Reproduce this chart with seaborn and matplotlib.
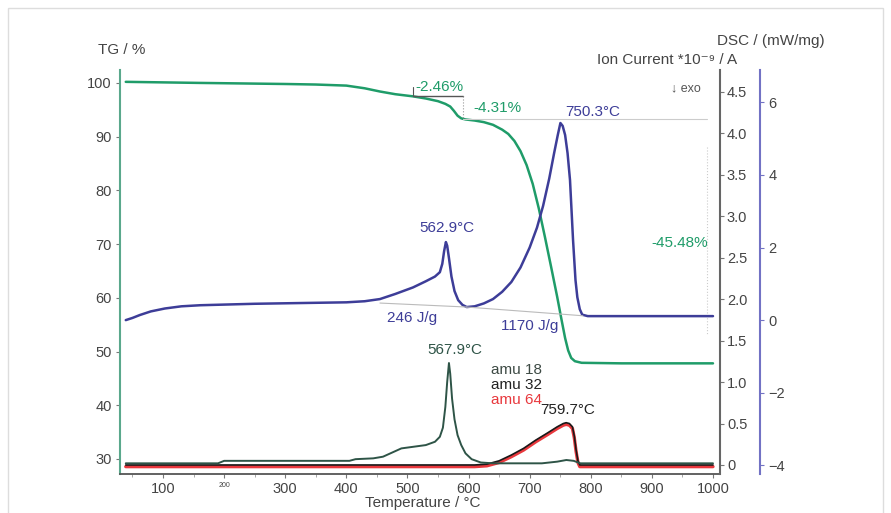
import numpy as np
import matplotlib
matplotlib.use("Agg")
import matplotlib.pyplot as plt
import matplotlib.patches as patches
import seaborn as sns

# TG curve (mass %)
tg_temp = [39, 100, 160, 230, 300, 350, 400, 430, 455, 480, 509, 530, 550, 562, 570, 576, 582, 588, 595, 610, 625, 640, 655, 665, 675, 685, 695, 705, 715, 725, 735, 745, 752, 758, 763, 768, 774, 785, 850, 1000]
tg_mass = [100.2, 100.1, 100.0, 99.9, 99.8, 99.7, 99.5, 99.0, 98.4, 97.9, 97.5, 97.1, 96.6, 96.1, 95.6, 94.8, 93.9, 93.4, 93.2, 93.0, 92.7, 92.2, 91.3, 90.5, 89.2, 87.3, 84.7, 81.2, 76.6, 71.3, 65.8, 60.2, 56.0, 52.5, 50.2, 48.8, 48.2, 47.9, 47.8, 47.8]

# DSC curve (mW/mg)
dsc_temp = [39, 50, 62, 80, 103, 130, 161, 250, 324, 400, 430, 455, 480, 509, 530, 545, 553, 557, 560, 562.9, 565, 568, 572, 577, 583, 590, 597, 610, 625, 640, 655, 670, 685, 700, 712, 722, 732, 740, 746, 750.3, 754, 758, 762, 766, 771, 775, 778, 782, 786, 795, 864, 1000]
dsc_val = [0.0, 0.06, 0.14, 0.24, 0.32, 0.38, 0.41, 0.45, 0.47, 0.49, 0.52, 0.58, 0.72, 0.9, 1.07, 1.2, 1.32, 1.55, 1.9, 2.15, 2.05, 1.7, 1.2, 0.8, 0.55, 0.42, 0.36, 0.38, 0.46, 0.58, 0.78, 1.05, 1.45, 2.0, 2.55, 3.15, 3.9, 4.6, 5.1, 5.43, 5.35, 5.1, 4.6, 3.86, 2.2, 1.1, 0.63, 0.3, 0.15, 0.11, 0.11, 0.11]

# ion currents
amu18_temp = [39, 190, 200, 405, 415, 444, 460, 475, 490, 510, 530, 545, 553, 558, 562, 565, 567.9, 570, 573, 577, 582, 588, 595, 605, 620, 640, 720, 745, 760, 772, 783, 1000]
amu18_val = [0.02, 0.02, 0.05, 0.05, 0.07, 0.08, 0.1, 0.15, 0.2, 0.22, 0.24, 0.28, 0.34, 0.45, 0.7, 1.0, 1.23, 1.1, 0.8, 0.55, 0.36, 0.24, 0.14, 0.07, 0.03, 0.02, 0.02, 0.04, 0.06, 0.05, 0.02, 0.02]
amu32_temp = [39, 610, 630, 650, 670, 690, 710, 730, 745, 755, 759.7, 765, 770, 773, 776, 779, 782, 1000]
amu32_val = [0.0, 0.0, 0.01, 0.05, 0.12, 0.2, 0.3, 0.39, 0.46, 0.5, 0.51, 0.5, 0.46, 0.35, 0.18, 0.05, 0.0, 0.0]
amu64_temp = [39, 610, 630, 650, 670, 690, 710, 730, 745, 755, 759.7, 765, 770, 773, 776, 779, 782, 1000]
amu64_val = [-0.02, -0.02, -0.01, 0.03, 0.1, 0.18, 0.28, 0.37, 0.44, 0.48, 0.49, 0.48, 0.44, 0.33, 0.16, 0.03, -0.02, -0.02]

x_ticks = [100, 200, 300, 400, 500, 600, 700, 800, 900, 1000]
tg_ticks = [30, 40, 50, 60, 70, 80, 90, 100]
ion_ticks = [0, 0.5, 1.0, 1.5, 2.0, 2.5, 3.0, 3.5, 4.0, 4.5]
ion_labels = ["0", "0.5", "1.0", "1.5", "2.0", "2.5", "3.0", "3.5", "4.0", "4.5"]
dsc_ticks = [-4, -2, 0, 2, 4, 6]

green = "#1f9c69"
blue = "#3d3d98"
red = "#e8383d"
txt = "#444444"

sns.set_style("white")
plt.rcParams["font.family"] = ["Liberation Sans", "DejaVu Sans"]

fig = plt.figure(figsize=(8.91, 5.13), dpi=100)
ax = fig.add_axes([0.1347, 0.076, 0.6734, 0.7875])
ax_ion = ax.twinx()
ax_dsc = ax.twinx()

# curves
sns.lineplot(x=tg_temp, y=tg_mass, ax=ax, color=green, linewidth=1.8, sort=False)
sns.lineplot(x=dsc_temp, y=dsc_val, ax=ax_dsc, color=blue, linewidth=1.8, sort=False)
sns.lineplot(x=amu64_temp, y=amu64_val, ax=ax_ion, color=red, linewidth=2.4, sort=False)
sns.lineplot(x=amu32_temp, y=amu32_val, ax=ax_ion, color="#1a1a1a", linewidth=1.2, sort=False)
sns.lineplot(x=amu18_temp, y=amu18_val, ax=ax_ion, color="#2e5447", linewidth=1.4, sort=False)

ax.set_xlim(29.6, 1011.5)
ax.set_ylim(27.2, 102.4)
ax_ion.set_ylim(-0.109, 4.765)
ax_dsc.set_ylim(-4.24, 6.89)

# TG step annotations
ax.plot([509, 591], [97.5, 97.5], color="#555555", lw=1.0)
ax.plot([509, 509], [97.5, 99.2], color="#555555", lw=0.8)
ax.plot([591, 591], [97.5, 93.2], color="#999999", lw=0.8, ls=":")
ax.plot([591, 990], [93.2, 93.2], color="#cccccc", lw=0.8)
ax.plot([990, 990], [88.1, 53.0], color="#cccccc", lw=0.8, ls=":")
ax.text(513, 99.3, "-2.46%", color=green, fontsize=11, ha="left", va="center")
ax.text(647, 95.3, "-4.31%", color=green, fontsize=11, ha="center", va="center")
ax.text(946, 70.2, "-45.48%", color=green, fontsize=11, ha="center", va="center")

# DSC annotations
ax_dsc.plot([455, 597], [0.47, 0.36], color="#bbbbbb", lw=0.8)
ax_dsc.plot([597, 787], [0.36, 0.12], color="#bbbbbb", lw=0.8)
ax_dsc.text(804, 5.73, "750.3°C", color=blue, fontsize=11, ha="center", va="center")
ax_dsc.text(565, 2.53, "562.9°C", color=blue, fontsize=11, ha="center", va="center")
ax_dsc.text(507, 0.05, "246 J/g", color=blue, fontsize=11, ha="center", va="center")
ax_dsc.text(700, -0.17, "1170 J/g", color=blue, fontsize=11, ha="center", va="center")

# ion current annotations
ax_ion.text(578, 1.39, "567.9°C", color="#2e5447", fontsize=11, ha="center", va="center")
ax_ion.text(763, 0.66, "759.7°C", color="#222222", fontsize=11, ha="center", va="center")
ax_ion.text(636, 1.14, "amu 18", color="#3d4a44", fontsize=11, ha="left", va="center")
ax_ion.text(636, 0.96, "amu 32", color="#222222", fontsize=11, ha="left", va="center")
ax_ion.text(636, 0.78, "amu 64", color=red, fontsize=11, ha="left", va="center")
ax_ion.text(955, 4.55, "↓ exo", color="#555555", fontsize=9, ha="center", va="center")

# spines
for a in (ax, ax_ion, ax_dsc):
    a.spines["top"].set_visible(False)
ax.spines["right"].set_visible(False)
ax.spines["left"].set_color("#5aa88c")
ax.spines["left"].set_linewidth(1.5)
ax.spines["bottom"].set_color("#555555")
ax.spines["bottom"].set_linewidth(1.3)
for s in ("left", "bottom"):
    ax_ion.spines[s].set_visible(False)
    ax_dsc.spines[s].set_visible(False)
ax_ion.spines["right"].set_color("#666666")
ax_ion.spines["right"].set_linewidth(1.5)
ax_dsc.spines["right"].set_position(("axes", 1.0667))
ax_dsc.spines["right"].set_color("#7272c4")
ax_dsc.spines["right"].set_linewidth(1.5)

# ticks
ax.set_xticks(x_ticks)
ax.set_xticks(np.arange(50, 1001, 50), minor=True)
ax.set_yticks(tg_ticks)
ax.tick_params(axis="both", which="major", direction="out", length=3, width=0.8,
               colors="#777777", labelcolor=txt, labelsize=10.5, pad=3)
ax.tick_params(axis="x", which="minor", direction="out", length=2, width=0.6, colors="#999999")
ax.tick_params(axis="x", which="both", bottom=True)
ax.tick_params(axis="y", left=True)
for lab in ax.get_xticklabels():
    if lab.get_text() == "200":
        lab.set_fontsize(5)
ax_ion.set_yticks(ion_ticks, labels=ion_labels)
ax_ion.tick_params(axis="y", right=True, direction="out", length=3, width=0.8,
                   colors="#777777", labelcolor=txt, labelsize=10.5, pad=2)
ax_dsc.set_yticks(dsc_ticks)
ax_dsc.tick_params(axis="y", right=True, direction="out", length=3, width=0.8,
                   colors="#7272c4", labelcolor=txt, labelsize=10.5, pad=3)
for a in (ax, ax_ion, ax_dsc):
    a.set_xlabel("")
    a.set_ylabel("")

# axis titles
fig.text(0.137, 0.903, "TG / %", fontsize=11, color=txt, ha="center", va="center")
fig.text(0.926, 0.920, "DSC / (mW/mg)", fontsize=11, color=txt, ha="right", va="center")
fig.text(0.827, 0.883, "Ion Current *10⁻⁹ / A", fontsize=11, color=txt, ha="right", va="center")
fig.text(0.474, 0.02, "Temperature / °C", fontsize=11, color=txt, ha="center", va="center")

# outer frame
fig.patches.append(patches.Rectangle((0.009, -0.01), 0.982, 0.995, transform=fig.transFigure,
                                     fill=False, edgecolor="#dddddd", linewidth=1.0))

fig.savefig("out.png", dpi=100)
